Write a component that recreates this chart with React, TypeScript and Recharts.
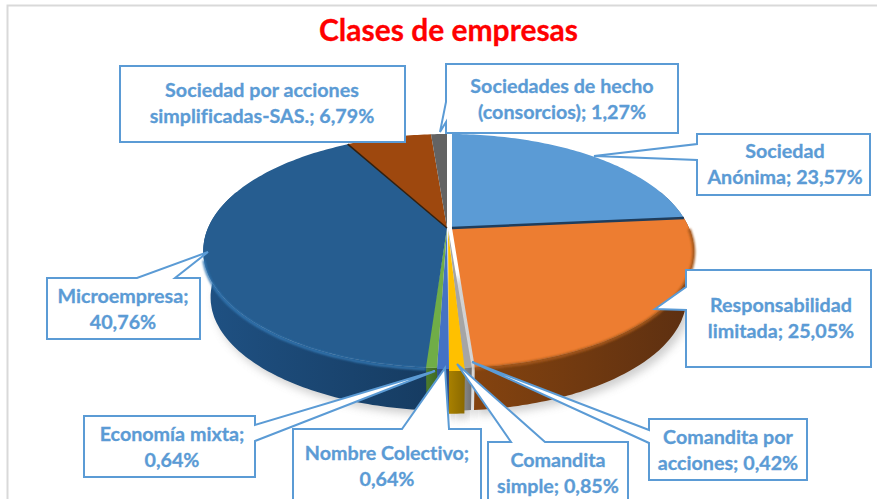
import React from "react";
import { PieChart, Pie } from "recharts";

const categories = [
  "Sociedad Anónima",
  "Responsabilidad limitada",
  "Comandita por acciones",
  "Comandita simple",
  "Nombre Colectivo",
  "Economía mixta",
  "Microempresa",
  "Sociedad por acciones simplificadas-SAS.",
  "Sociedades de hecho (consorcios)",
];
const values = [23.57, 25.05, 0.42, 0.85, 0.64, 0.64, 40.76, 6.79, 1.27];
const valueLabels = ["23,57%", "25,05%", "0,42%", "0,85%", "0,64%", "0,64%", "40,76%", "6,79%", "1,27%"];
const labelLines = [
  ["Sociedad", "Anónima; 23,57%"],
  ["Responsabilidad", "limitada; 25,05%"],
  ["Comandita por", "acciones; 0,42%"],
  ["Comandita", "simple; 0,85%"],
  ["Nombre Colectivo;", "0,64%"],
  ["Economía mixta;", "0,64%"],
  ["Microempresa;", "40,76%"],
  ["Sociedad por acciones", "simplificadas-SAS.; 6,79%"],
  ["Sociedades de hecho", "(consorcios); 1,27%"],
];
const topColors = ["#5b9bd5", "#ed7d31", "#a5a5a5", "#ffc000", "#4472c4", "#70ad47", "#265d90", "#9e480e", "#636363"];
const wallFrom = ["#37608a", "#84430f", "#8a8a8a", "#a88000", "#2f5597", "#4f7f2e", "#1f5183", "#6e3209", "#4a4a4a"];
const wallTo = ["#37608a", "#5c2f11", "#6e6e6e", "#8a6900", "#27467e", "#3f6a24", "#163c62", "#6e3209", "#4a4a4a"];
const shifts = [[0, 0], [0, 0], [-3, 0], [-2, 3], [-2, 1], [-2, 0], [-1, 0], [-2, 0], [-2, 0]];
const apexShifts = [3, 3, -1, -1, -2, -2, -2, -2, -2];

// callout outlines: box [x, y, w, h], side holding the pointer, pointer points clockwise
const boxes = [
  [697, 134, 173, 61], [686, 270, 185, 97], [649, 419, 158, 61], [488, 442, 140, 70],
  [293, 429, 188, 80], [84, 416, 171, 61], [47, 278, 153, 61], [120, 66, 285, 76], [446, 64, 232, 69],
];
const pointerSides = ["l", "l", "l", "t", "t", "r", "t", "", "l"];
const pointers = [
  [[697, 160], [594, 156], [697, 144]],
  [[686, 310], [655, 309], [686, 287]],
  [[649, 443], [472, 362], [649, 430]],
  [[511, 442], [457, 364], [545, 442]],
  [[402, 429], [445, 368], [449, 429]],
  [[255, 425], [435, 371], [255, 441]],
  [[137, 278], [208, 252], [175, 278]],
  [],
  [[446, 122], [440, 132], [446, 102]],
];
const textCenters = [785, 781, 728, 558, 387, 172, 123, 262, 562];
const textBaselines = [158, 312, 444, 467, 460, 441, 303, 97, 93];

const TILT = 0.4685;
const PERSP = 0.1966;
const DEPTH = 47;
const BASE_SCALE = 0.97;

const rimPoint = (p: any, deg: number, base: boolean, shift: number[]) => {
  const rad = (deg * Math.PI) / 180;
  const u = Math.cos(rad);
  const v = -Math.sin(rad);
  const d = 1 - PERSP * v;
  const s = base ? BASE_SCALE : 1;
  const x = p.cx + shift[0] + (s * p.outerRadius * u) / d;
  const y = p.cy + shift[1] + (s * TILT * p.outerRadius * v) / d + (base ? DEPTH : 0);
  return [x, y];
};
const arc = (p: any, a: number, b: number, base: boolean, shift: number[]) => {
  const pts: number[][] = [];
  const n = Math.max(2, Math.ceil(Math.abs(b - a)));
  for (let i = 0; i <= n; i++) pts.push(rimPoint(p, a + ((b - a) * i) / n, base, shift));
  return pts;
};
const toPath = (pts: number[][], close = true) =>
  "M" + pts.map((q) => q[0].toFixed(1) + " " + q[1].toFixed(1)).join("L") + (close ? "Z" : "");

// the part of a slice's rim (Recharts' angles) between two limits
const clipRange = (a: number, b: number, min: number, max: number) => {
  const from = Math.max(Math.min(a, b), min);
  const to = Math.min(Math.max(a, b), max);
  return from < to ? [from, to] : null;
};

const ShadowShape = (p: any) => {
  const i = categories.indexOf(p.name);
  const r = clipRange(p.endAngle, p.startAngle, -200, 20);
  if (!r) return <g />;
  const pts = [...arc(p, r[0], r[1], true, shifts[i]), [p.cx, p.cy + DEPTH]];
  return <path d={toPath(pts)} fill="#8c8c8c" opacity={0.42} transform="translate(4 5)" filter="url(#soft)" />;
};
const WallShape = (p: any) => {
  const i = categories.indexOf(p.name);
  const r = clipRange(p.endAngle, p.startAngle, -200, 20);
  if (!r) return <g />;
  const top = arc(p, r[0], r[1], false, shifts[i]);
  const bottom = arc(p, r[1], r[0], true, shifts[i]);
  return <path d={toPath([...top, ...bottom])} fill={`url(#wall${i})`} />;
};
const TopShape = (p: any) => {
  const i = categories.indexOf(p.name);
  const s = shifts[i];
  const apexX = p.cx + apexShifts[i];
  const apex = [apexX, p.cy + s[1]];
  const rim = arc(p, p.startAngle, p.endAngle, false, s);
  const pts = [apex, ...(i < 2 ? rim.map((q) => [Math.max(q[0], apexX), q[1]]) : rim)];
  const edge = rimPoint(p, p.startAngle, false, s);
  const front = clipRange(p.endAngle, p.startAngle, -165, 0);
  return (
    <g>
      <path d={toPath(pts)} fill={p.fill} />
      {i === 1 && <path d={toPath([apex, edge], false)} stroke="#1f3d5c" strokeWidth={2.5} />}
      {i === 7 && <path d={toPath([apex, edge], false)} stroke="#33200f" strokeWidth={1.5} />}
      {i === 6 && front && (
        <path d={toPath(arc(p, front[0], front[1], false, [s[0], s[1] + 1.5]), false)} fill="none" stroke="#3479b5" strokeWidth={2.5} filter="url(#edge)" />
      )}
      {i === 1 && front && (
        <path d={toPath(arc(p, front[0], front[1], false, [s[0], s[1] + 1]), false)} fill="none" stroke="#a5581f" strokeWidth={3} filter="url(#edge)" />
      )}
    </g>
  );
};

const calloutPath = (i: number) => {
  const [x, y, w, h] = boxes[i];
  const side = pointerSides[i];
  const ptr = pointers[i];
  const pts: number[][] = [[x, y]];
  if (side === "t") pts.push(...ptr);
  pts.push([x + w, y]);
  if (side === "r") pts.push(...ptr);
  pts.push([x + w, y + h]);
  pts.push([x, y + h]);
  if (side === "l") pts.push(...ptr);
  return toPath(pts);
};

const Callout = (i: number) => (
  <g key={categories[i]}>
    <path d={calloutPath(i)} fill="#ffffff" stroke="#5b9bd5" strokeWidth={2} />
    <text
      textAnchor="middle"
      fontFamily="Lato"
      fontWeight={700}
      fontSize={19.7}
      fill="#5b9bd5"
      stroke="#5b9bd5"
      strokeWidth={0.3}
      style={{ fontVariantLigatures: "none" }}
      aria-label={`${categories[i]}; ${valueLabels[i]}`}
    >
      {labelLines[i].map((line, k) => (
        <tspan key={k} x={textCenters[i]} y={textBaselines[i] + k * 26}>
          {line}
        </tspan>
      ))}
    </text>
  </g>
);

const data = categories.map((name, i) => ({ name, value: values[i], fill: topColors[i] }));
const PIE = { cx: 449, cy: 228, outerRadius: 240, startAngle: 90, endAngle: -270, dataKey: "value", nameKey: "name" };

export default function App() {
  return (
    <div style={{ position: "fixed", left: 0, top: 0, width: 877, height: 499, overflow: "hidden", background: "#fff" }}>
      <PieChart width={877} height={499} margin={{ top: 0, right: 0, bottom: 0, left: 0 }}>
        <defs>
          <filter id="soft" x="-10%" y="-10%" width="120%" height="120%">
            <feGaussianBlur stdDeviation="4" />
          </filter>
          <filter id="edge" x="-10%" y="-10%" width="120%" height="130%">
            <feGaussianBlur stdDeviation="1.2" />
          </filter>
          {categories.map((_, i) => (
            <linearGradient key={i} id={`wall${i}`} x1="0" y1="0" x2="1" y2="0">
              <stop offset="0%" stopColor={wallFrom[i]} />
              <stop offset="100%" stopColor={wallTo[i]} />
            </linearGradient>
          ))}
        </defs>
        <path d="M7.5 499V5.5H877" fill="none" stroke="#d9d9d9" strokeWidth={2} />
        <text x={448.5} y={41} textAnchor="middle" fontFamily="Lato" fontWeight={700} fontSize={30} fill="#ff0000" stroke="#ff0000" strokeWidth={0.3}>
          Clases de empresas
        </text>
        <Pie {...PIE} data={data} shape={ShadowShape} isAnimationActive={false} stroke="none" />
        <Pie {...PIE} data={data} shape={WallShape} isAnimationActive={false} stroke="none" />
        <Pie
          {...PIE}
          data={data}
          shape={TopShape}
          isAnimationActive={false}
          stroke="none"
          labelLine={false}
          label={(props: any) => Callout(categories.indexOf(props.name))}
        />
      </PieChart>
    </div>
  );
}
